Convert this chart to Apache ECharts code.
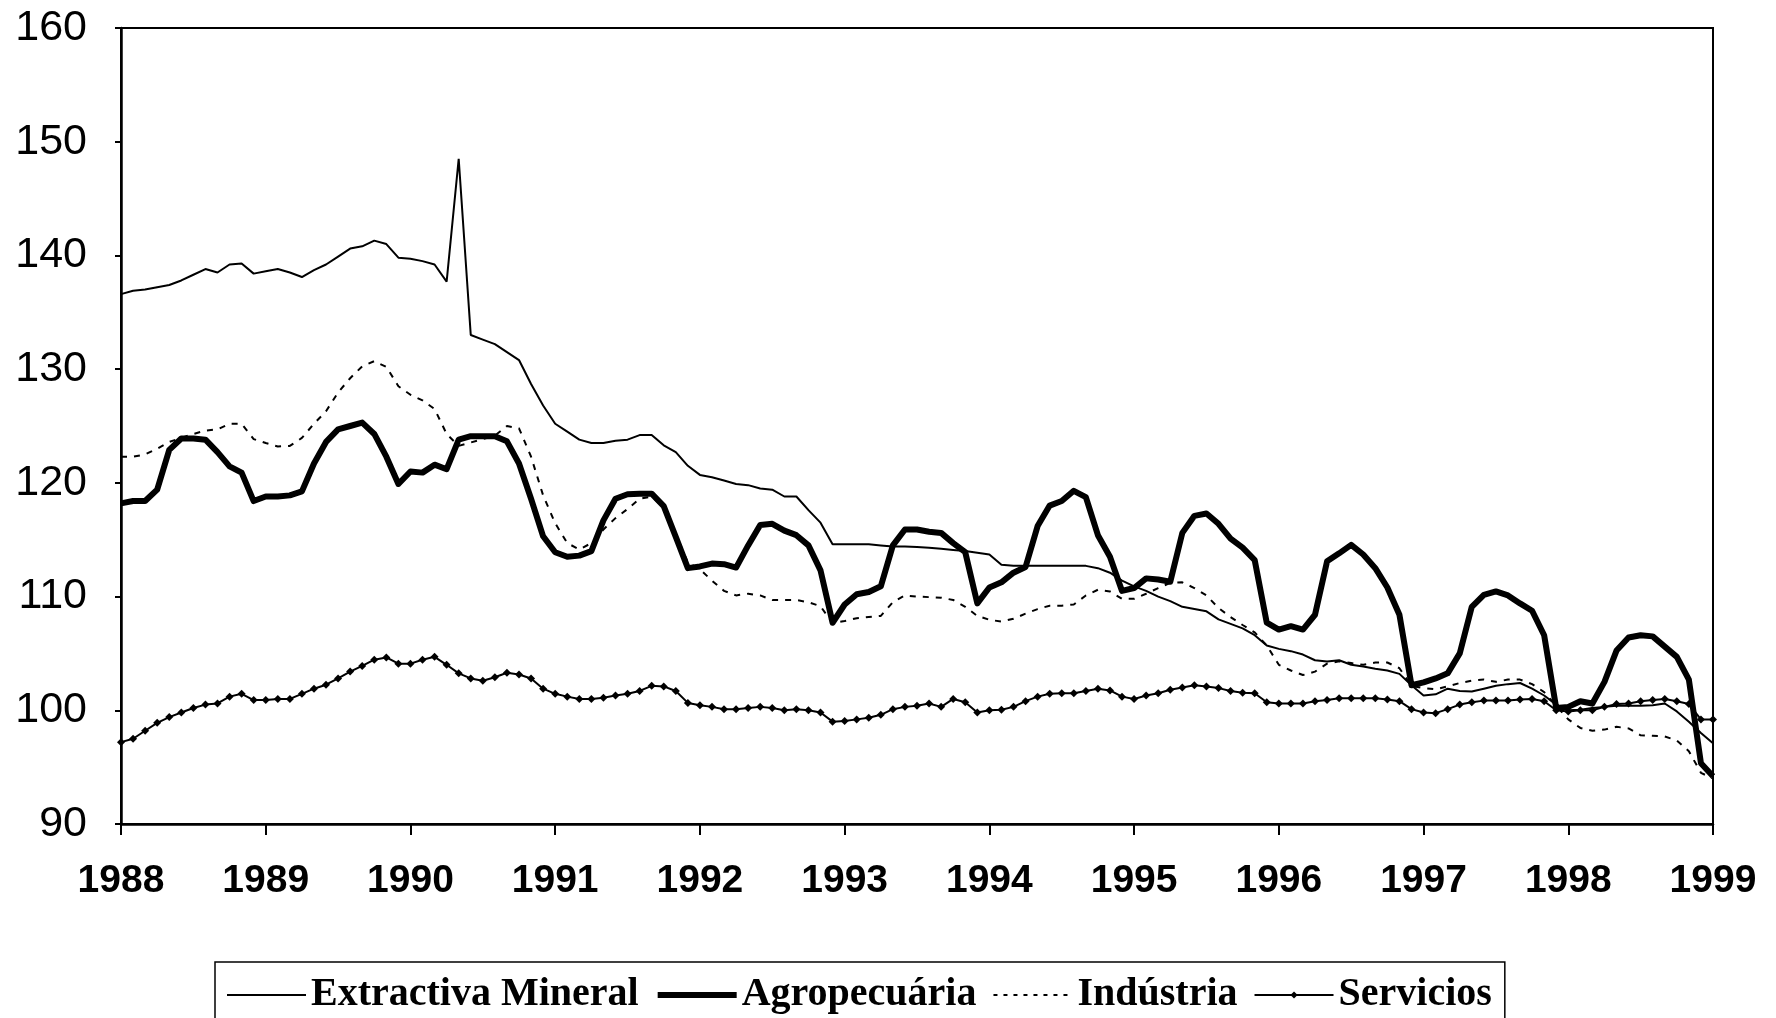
<!DOCTYPE html>
<html>
<head>
<meta charset="utf-8">
<script src="https://cdn.jsdelivr.net/npm/echarts@6/dist/echarts.min.js"></script>
<style>
html,body{margin:0;padding:0;background:#fff;}
#chart{width:1776px;height:1018px;}
</style>
</head>
<body>
<div id="chart"></div>
<script>
// Monthly index values, Jan 1988 .. Jan 1999 (133 months)
var yearLabels = ['1988','1989','1990','1991','1992','1993','1994','1995','1996','1997','1998','1999'];
var yTicks = [90,100,110,120,130,140,150,160];

var extractivaMineral = [
136.6,136.9,137.0,137.2,137.4,137.8,138.3,138.8,138.5,139.2,139.3,138.4,
138.6,138.8,138.5,138.1,138.7,139.2,139.9,140.6,140.8,141.3,141.0,139.8,
139.7,139.5,139.2,137.7,148.5,133.0,132.6,132.2,131.5,130.8,128.7,126.8,
125.2,124.5,123.8,123.5,123.5,123.7,123.8,124.2,124.2,123.3,122.7,121.5,
120.7,120.5,120.2,119.9,119.8,119.5,119.4,118.8,118.8,117.6,116.5,114.6,
114.6,114.6,114.6,114.5,114.4,114.4,114.35,114.3,114.2,114.1,114.0,113.85,
113.7,112.8,112.7,112.7,112.7,112.7,112.7,112.7,112.7,112.5,112.1,111.4,
110.9,110.5,110.0,109.6,109.1,108.9,108.7,108.0,107.6,107.2,106.6,105.7,
105.4,105.2,104.9,104.4,104.3,104.4,104.0,103.85,103.65,103.5,103.2,102.2,
101.3,101.4,101.9,101.7,101.65,101.9,102.15,102.3,102.4,101.9,101.3,100.5,
100.0,100.05,100.2,100.3,100.4,100.4,100.4,100.45,100.6,99.9,99.0,98.0,97.1
];

var agropecuaria = [
118.2,118.4,118.4,119.4,122.9,123.9,123.9,123.8,122.7,121.45,120.9,118.4,
118.8,118.8,118.9,119.25,121.7,123.6,124.7,125.0,125.3,124.3,122.3,119.9,
121.0,120.9,121.6,121.2,123.8,124.1,124.1,124.1,123.65,121.7,118.6,115.3,
113.9,113.5,113.6,114.0,116.7,118.6,119.0,119.05,119.05,117.95,115.25,112.5,
112.65,112.9,112.85,112.55,114.5,116.3,116.4,115.8,115.4,114.5,112.3,107.7,
109.3,110.2,110.4,110.9,114.5,115.9,115.9,115.7,115.6,114.7,113.9,109.4,
110.8,111.25,112.1,112.6,116.2,118.0,118.4,119.3,118.75,115.4,113.5,110.5,
110.75,111.6,111.5,111.3,115.6,117.1,117.3,116.4,115.1,114.3,113.2,107.7,
107.1,107.4,107.1,108.4,113.1,113.8,114.55,113.7,112.5,110.8,108.4,102.2,
102.45,102.8,103.25,105.0,109.1,110.15,110.45,110.1,109.4,108.75,106.6,100.2,
100.3,100.8,100.6,102.5,105.25,106.4,106.6,106.5,105.6,104.7,102.7,95.35,94.2
];

var industria = [
122.3,122.3,122.5,123.0,123.6,123.95,124.3,124.6,124.7,125.2,125.2,123.85,
123.5,123.2,123.25,123.95,125.2,126.3,127.95,129.2,130.25,130.7,130.2,128.5,
127.75,127.25,126.5,124.3,123.25,123.55,123.85,124.15,125.0,124.8,122.3,118.9,
116.45,114.7,114.15,114.7,115.9,116.9,117.7,118.6,118.8,117.8,115.5,113.0,
112.4,111.4,110.5,110.1,110.25,110.1,109.7,109.7,109.7,109.5,109.15,107.65,
107.85,108.1,108.2,108.3,109.5,110.1,110.0,109.95,109.9,109.7,109.1,108.3,
107.96,107.8,108.05,108.5,108.9,109.2,109.2,109.3,110.1,110.6,110.45,109.8,
109.8,110.25,110.75,111.2,111.25,110.75,110.1,109.0,108.2,107.5,106.85,105.7,
104.0,103.5,103.1,103.4,104.1,104.3,104.15,104.0,104.2,104.2,103.7,102.15,
101.95,101.85,102.1,102.4,102.6,102.7,102.5,102.7,102.7,102.3,101.6,100.4,
99.2,98.45,98.2,98.3,98.55,98.4,97.8,97.75,97.7,97.35,96.4,94.5,94.0
];

var servicios = [
97.2,97.5,98.2,98.9,99.4,99.8,100.2,100.5,100.6,101.2,101.45,100.9,
100.9,101.0,101.0,101.45,101.9,102.25,102.8,103.4,103.9,104.45,104.65,104.1,
104.1,104.45,104.7,104.0,103.25,102.8,102.6,102.9,103.3,103.15,102.8,101.9,
101.45,101.2,101.0,101.0,101.1,101.3,101.45,101.7,102.15,102.1,101.7,100.65,
100.45,100.3,100.1,100.1,100.2,100.3,100.2,100.0,100.1,100.0,99.8,99.0,
99.05,99.2,99.35,99.6,100.1,100.3,100.4,100.6,100.3,101.0,100.7,99.8,
100.0,100.05,100.3,100.8,101.2,101.45,101.5,101.5,101.7,101.9,101.75,101.2,
101.0,101.3,101.5,101.8,102.0,102.2,102.1,101.95,101.7,101.55,101.5,100.7,
100.6,100.6,100.6,100.8,100.9,101.05,101.05,101.05,101.05,100.95,100.8,100.1,
99.8,99.75,100.1,100.5,100.7,100.85,100.85,100.85,100.95,101.0,100.8,100.0,
99.9,100.0,100.0,100.3,100.55,100.6,100.8,100.9,101.0,100.8,100.55,99.2,99.2
];

function pairs(arr){ return arr.map(function(v,i){ return [i, v]; }); }

var chart = echarts.init(document.getElementById('chart'), null, {renderer:'canvas'});
chart.setOption({
  backgroundColor:'#ffffff',
  animation:false,
  grid:{left:121, right:63, top:28, bottom:194, show:true, borderColor:'#000', borderWidth:2, backgroundColor:'transparent'},
  xAxis:{
    type:'value', min:0, max:132, interval:12,
    axisLine:{show:true, lineStyle:{color:'#000', width:2.5}},
    axisTick:{show:true, inside:false, length:11, lineStyle:{color:'#000', width:2}},
    splitLine:{show:false},
    axisLabel:{
      margin:38, color:'#000', fontFamily:'Liberation Sans, Arial, sans-serif', fontWeight:'bold', fontSize:39,
      formatter:function(v){ return yearLabels[Math.round(v/12)]; }
    }
  },
  yAxis:{
    type:'value', min:90, max:160, interval:10,
    axisLine:{show:true, lineStyle:{color:'#000', width:2.5}},
    axisTick:{show:true, inside:false, length:6, lineStyle:{color:'#000', width:2}},
    splitLine:{show:false},
    axisLabel:{margin:34, color:'#000', fontFamily:'Liberation Sans, Arial, sans-serif', fontSize:43,
      formatter:function(v){ return yTicks.indexOf(v) >= 0 ? String(v) : ''; }}
  },
  legend:{
    left:215, top:962,
    padding:[10,13,30,11],
    borderColor:'#000', borderWidth:1.5,
    itemGap:16, itemWidth:79, itemHeight:9,
    textStyle:{color:'#000', fontFamily:'Liberation Serif, Times New Roman, serif', fontWeight:'bold', fontSize:40, lineHeight:46},
    data:[
      {name:'Extractiva Mineral', itemStyle:{opacity:0}, lineStyle:{width:2, color:'#000'}},
      {name:'Agropecuária', itemStyle:{opacity:0}, lineStyle:{width:6, color:'#000'}},
      {name:'Indústria', itemStyle:{opacity:0}, lineStyle:{width:2, color:'#000', type:[4,6]}},
      {name:'Servicios', itemStyle:{color:'#000'}, lineStyle:{width:2, color:'#000'}}
    ]
  },
  series:[
    {name:'Extractiva Mineral', type:'line', data:pairs(extractivaMineral), symbol:'none', z:3,
     lineStyle:{color:'#000', width:2}, itemStyle:{color:'#000'}},
    {name:'Agropecuária', type:'line', data:pairs(agropecuaria), symbol:'none', z:4,
     lineStyle:{color:'#000', width:6, join:'round'}, itemStyle:{color:'#000'}},
    {name:'Indústria', type:'line', data:pairs(industria), symbol:'none', z:2,
     lineStyle:{color:'#000', width:2, type:[6,7]}, itemStyle:{color:'#000'}},
    {name:'Servicios', type:'line', data:pairs(servicios), symbol:'diamond', symbolSize:8, showSymbol:true, z:5,
     lineStyle:{color:'#000', width:2}, itemStyle:{color:'#000'}}
  ]
});
</script>
</body>
</html>
